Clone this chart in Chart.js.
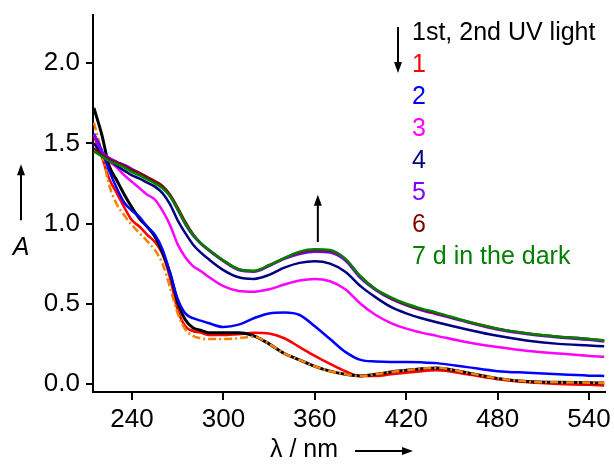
<!DOCTYPE html>
<html>
<head>
<meta charset="utf-8">
<script src="https://cdn.jsdelivr.net/npm/chart.js@4"></script>
<style>
  html, body { margin: 0; padding: 0; background: #fff; }
  canvas { display: block; }
</style>
</head>
<body>
<canvas id="canvas" width="614" height="465"></canvas>
<script>
// wavelengths (nm) shared by all spectra
const wavelengths = [215, 220, 225, 230, 235, 240, 245, 250, 255, 260, 265, 270, 275, 280, 285, 290,
  300, 310, 320, 330, 340, 350, 360, 370, 380, 390, 400, 410, 420, 430, 440, 460, 480, 500, 520, 540, 550];

const initial = [1.72, 1.56, 1.36, 1.27, 1.18, 1.10, 1.03, 0.98, 0.92, 0.82, 0.69, 0.51, 0.40, 0.35, 0.335, 0.32,
  0.32, 0.32, 0.30, 0.25, 0.19, 0.15, 0.11, 0.08, 0.06, 0.05, 0.06, 0.075, 0.085, 0.095, 0.10, 0.07, 0.035, 0.015, 0.01, 0.008, 0.006];
const dashed = [1.63, 1.45, 1.24, 1.12, 1.05, 0.99, 0.94, 0.89, 0.835, 0.75, 0.60, 0.44, 0.34, 0.30, 0.285, 0.28,
  0.28, 0.285, 0.295, 0.25, 0.19, 0.15, 0.11, 0.08, 0.06, 0.05, 0.06, 0.075, 0.085, 0.095, 0.10, 0.07, 0.035, 0.015, 0.01, 0.008, 0.006];
const uv1 = [1.55, 1.42, 1.28, 1.19, 1.10, 1.02, 0.98, 0.93, 0.885, 0.81, 0.66, 0.46, 0.36, 0.33, 0.32, 0.305,
  0.305, 0.31, 0.32, 0.315, 0.285, 0.23, 0.175, 0.125, 0.08, 0.05, 0.05, 0.06, 0.07, 0.08, 0.085, 0.06, 0.03, 0.01, 0.0, -0.005, -0.01];
const uv2 = [1.56, 1.46, 1.33, 1.22, 1.13, 1.08, 1.04, 0.98, 0.93, 0.84, 0.69, 0.53, 0.44, 0.41, 0.395, 0.38,
  0.355, 0.37, 0.41, 0.44, 0.445, 0.43, 0.36, 0.28, 0.20, 0.15, 0.14, 0.137, 0.137, 0.135, 0.13, 0.105, 0.08, 0.07, 0.06, 0.052, 0.05];
const uv3 = [1.50, 1.44, 1.39, 1.35, 1.30, 1.26, 1.22, 1.18, 1.15, 1.08, 0.99, 0.87, 0.79, 0.735, 0.705, 0.67,
  0.61, 0.58, 0.575, 0.59, 0.62, 0.645, 0.655, 0.64, 0.59, 0.50, 0.43, 0.38, 0.345, 0.32, 0.30, 0.26, 0.23, 0.205, 0.19, 0.175, 0.17];
const uv4 = [1.50, 1.44, 1.40, 1.36, 1.33, 1.30, 1.28, 1.255, 1.23, 1.19, 1.12, 1.02, 0.94, 0.87, 0.82, 0.78,
  0.71, 0.665, 0.655, 0.68, 0.725, 0.755, 0.765, 0.75, 0.70, 0.61, 0.54, 0.48, 0.44, 0.41, 0.385, 0.34, 0.30, 0.27, 0.25, 0.24, 0.235];
const uv5 = [1.56, 1.45, 1.41, 1.385, 1.365, 1.34, 1.315, 1.285, 1.26, 1.225, 1.17, 1.085, 0.995, 0.925, 0.875, 0.835,
  0.765, 0.71, 0.70, 0.735, 0.78, 0.81, 0.825, 0.82, 0.77, 0.66, 0.585, 0.53, 0.49, 0.46, 0.435, 0.385, 0.34, 0.31, 0.29, 0.275, 0.265];
const uv6 = [1.47, 1.43, 1.40, 1.38, 1.36, 1.335, 1.315, 1.29, 1.265, 1.235, 1.18, 1.10, 1.01, 0.935, 0.88, 0.84,
  0.77, 0.715, 0.705, 0.74, 0.785, 0.82, 0.835, 0.83, 0.78, 0.67, 0.59, 0.535, 0.495, 0.465, 0.44, 0.39, 0.345, 0.315, 0.295, 0.28, 0.27];
const dark7 = [1.45, 1.42, 1.39, 1.37, 1.35, 1.32, 1.30, 1.275, 1.25, 1.22, 1.17, 1.09, 1.00, 0.93, 0.88, 0.84,
  0.77, 0.715, 0.705, 0.74, 0.785, 0.825, 0.84, 0.835, 0.78, 0.67, 0.59, 0.54, 0.50, 0.47, 0.445, 0.39, 0.345, 0.315, 0.295, 0.28, 0.27];

const xTicks = [240, 300, 360, 420, 480, 540];
const yTicks = [0.0, 0.5, 1.0, 1.5, 2.0];

const legendLabels = ["1st, 2nd UV light", "1", "2", "3", "4", "5", "6", "7 d in the dark"];
const legendColors = ["#000000", "#ff0000", "#0000ff", "#ff00ff", "#000080", "#8000ff", "#800000", "#008000"];

const FONT = '"Liberation Sans", Arial, sans-serif';

function pts(vals) {
  return wavelengths.map((x, i) => ({ x: x, y: vals[i] }));
}

function line(label, vals, color, order, extra) {
  return Object.assign({
    label: label,
    data: pts(vals),
    borderColor: color,
    backgroundColor: "transparent",
    borderWidth: 2.5,
    pointRadius: 0,
    cubicInterpolationMode: "monotone",
    order: order
  }, extra || {});
}

function arrow(ctx, x1, y1, x2, y2) {
  const a = Math.atan2(y2 - y1, x2 - x1);
  const len = 11, w = 4;
  ctx.beginPath();
  ctx.moveTo(x1, y1);
  ctx.lineTo(x2 - Math.cos(a) * len * 0.8, y2 - Math.sin(a) * len * 0.8);
  ctx.stroke();
  ctx.beginPath();
  ctx.moveTo(x2, y2);
  ctx.lineTo(x2 - Math.cos(a) * len - Math.sin(a) * w, y2 - Math.sin(a) * len + Math.cos(a) * w);
  ctx.lineTo(x2 - Math.cos(a) * len + Math.sin(a) * w, y2 - Math.sin(a) * len - Math.cos(a) * w);
  ctx.closePath();
  ctx.fill();
}

// axis titles, arrows and the coloured key
const annotations = {
  id: "annotations",
  afterDraw(chart) {
    const ctx = chart.ctx;
    const area = chart.chartArea;
    const xs = chart.scales.x, ys = chart.scales.y;
    ctx.save();
    ctx.strokeStyle = "#000";
    ctx.fillStyle = "#000";
    ctx.lineWidth = 2;

    // rising band arrow
    const ax = xs.getPixelForValue(362);
    arrow(ctx, ax, ys.getPixelForValue(0.885), ax, ys.getPixelForValue(1.18));

    // y title
    ctx.font = "italic 25px " + FONT;
    ctx.textAlign = "center";
    ctx.textBaseline = "middle";
    ctx.fillText("A", 21, ys.getPixelForValue(0.85));
    arrow(ctx, 21, ys.getPixelForValue(1.02), 21, ys.getPixelForValue(1.37));

    // x title
    ctx.font = "25px " + FONT;
    ctx.textAlign = "left";
    ctx.fillText("\u03bb / nm", 270, 450);
    arrow(ctx, 355, 451, 413, 451);

    // key
    const lx = area.right - 193, ly = area.top + 18;
    arrow(ctx, lx - 14, ly - 6, lx - 14, ly + 40);
    ctx.textAlign = "left";
    legendLabels.forEach((t, i) => {
      ctx.fillStyle = legendColors[i];
      ctx.fillText(t, lx, ly + i * 32);
    });
    ctx.restore();
  }
};

const ctx = document.getElementById("canvas").getContext("2d");
const myChart = new Chart(ctx, {
  type: "line",
  data: {
    datasets: [
      line("dark", dark7, "#008000", 1),
      line("6", uv6, "#800000", 2),
      line("5", uv5, "#8000ff", 3),
      line("4", uv4, "#000080", 4),
      line("3", uv3, "#ff00ff", 5),
      line("2", uv2, "#0000ff", 6),
      line("dash", dashed, "#ff8000", 7, { borderDash: [8, 3, 2, 3] }),
      line("initial", initial, "#000000", 8, { borderWidth: 3 }),
      line("1", uv1, "#ff0000", 9)
    ]
  },
  options: {
    responsive: false,
    animation: false,
    devicePixelRatio: 1,
    layout: { padding: { top: 15, right: 9, left: 0, bottom: 0 } },
    plugins: { legend: { display: false }, tooltip: { enabled: false } },
    scales: {
      x: {
        type: "linear",
        min: 214.4,
        max: 550.5,
        afterBuildTicks: (s) => { s.ticks = xTicks.map((v) => ({ value: v })); },
        afterFit: (s) => { s.height = 73; s.paddingLeft = 0; s.paddingRight = 0; },
        ticks: { color: "#000", font: { size: 26, family: FONT }, padding: 4, maxRotation: 0,
          callback: (v) => String(v) },
        grid: { drawOnChartArea: false, color: "#000", lineWidth: 2, tickLength: 8 },
        border: { color: "#000", width: 2 }
      },
      y: {
        min: -0.05,
        max: 2.30,
        afterBuildTicks: (s) => { s.ticks = yTicks.map((v) => ({ value: v })); },
        afterFit: (s) => { s.width = 93; s.paddingTop = 0; s.paddingBottom = 0; },
        ticks: { color: "#000", font: { size: 26, family: FONT }, padding: 6,
          callback: (v) => Number(v).toFixed(1) },
        grid: { drawOnChartArea: false, color: "#000", lineWidth: 2, tickLength: 7 },
        border: { color: "#000", width: 2 }
      }
    }
  },
  plugins: [annotations]
});
</script>
</body>
</html>
